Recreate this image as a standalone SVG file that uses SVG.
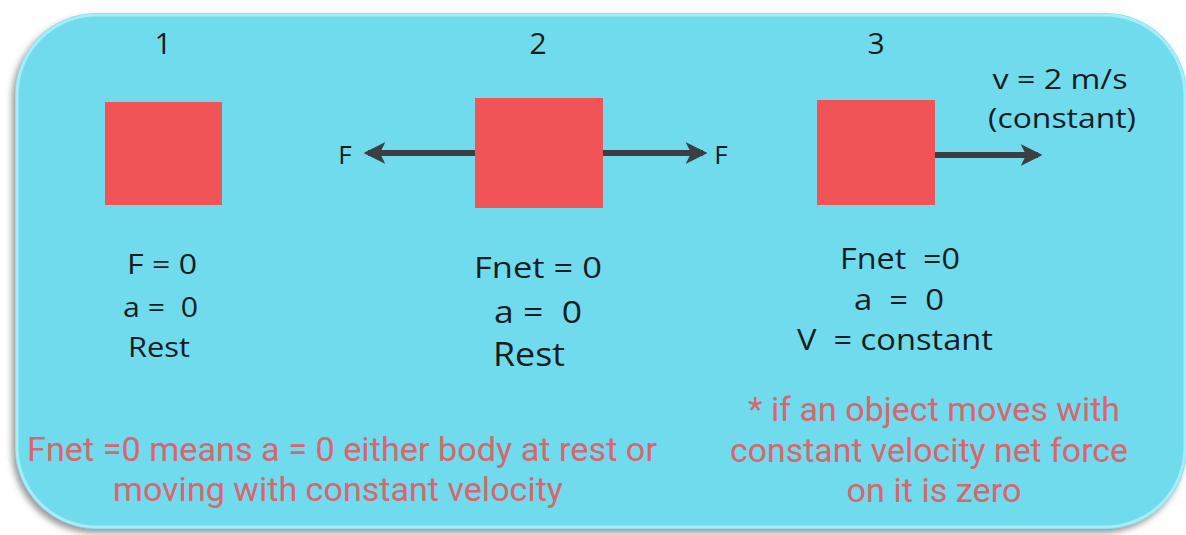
<svg xmlns="http://www.w3.org/2000/svg" width="1186" height="535" viewBox="0 0 1186 535">
<defs>
<style>
.lbl{font-family:"Open Sans","Noto Sans","Liberation Sans",sans-serif;fill:#161d21;text-anchor:middle;font-weight:500}
.red{font-family:Roboto,"Open Sans","Liberation Sans",sans-serif;fill:#d8666e;text-anchor:middle;font-size:33px}
.box{fill:#f15457}
.arr{stroke:#3b3e43;stroke-width:6;fill:none}
</style>
<marker id="ah" viewBox="0 0 10 10" refX="8" refY="5" markerWidth="3.6" markerHeight="3.6" orient="auto-start-reverse" markerUnits="strokeWidth">
<path d="M0,0 L10,5 L0,10 L2.5,5 Z" fill="#3b3e43"/>
</marker>
<filter id="sh" x="-5%" y="-5%" width="110%" height="115%">
<feDropShadow dx="-3" dy="4" stdDeviation="3" flood-color="#555" flood-opacity="0.6"/>
</filter>
</defs>
<rect width="1186" height="535" fill="#ffffff"/>
<g id="panel">
<rect x="15" y="13" width="1172" height="516" rx="82" ry="82" fill="#6fdbed" filter="url(#sh)"/>
<rect x="17" y="15" width="1168" height="512" rx="80" ry="80" fill="none" stroke="#a8ecf7" stroke-width="3"/>
</g>
<g id="connectors">
<line class="arr" x1="475" y1="153" x2="368" y2="153" marker-end="url(#ah)"/>
<line class="arr" x1="603" y1="153" x2="703" y2="153" marker-end="url(#ah)"/>
<line class="arr" x1="935" y1="155" x2="1038" y2="155" marker-end="url(#ah)"/>
</g>
<g id="case1">
<text class="lbl" x="163" y="54" font-size="30">1</text>
<rect class="box" x="105" y="102" width="117" height="103"/>
<text class="lbl" x="162" y="274" font-size="27" textLength="70" lengthAdjust="spacingAndGlyphs">F = 0</text>
<text class="lbl" x="160.5" y="317" font-size="27" textLength="75" lengthAdjust="spacingAndGlyphs" xml:space="preserve">a =  0</text>
<text class="lbl" x="159" y="357" font-size="28" textLength="62" lengthAdjust="spacingAndGlyphs">Rest</text>
</g>
<g id="case2">
<text class="lbl" x="538" y="54" font-size="30">2</text>
<rect class="box" x="475" y="98" width="128" height="110"/>
<text class="lbl" x="345" y="164" font-size="26">F</text>
<text class="lbl" x="721" y="164" font-size="26">F</text>
<text class="lbl" x="538" y="278" font-size="30" textLength="128" lengthAdjust="spacingAndGlyphs">Fnet = 0</text>
<text class="lbl" x="538" y="323" font-size="31" textLength="88" lengthAdjust="spacingAndGlyphs" xml:space="preserve">a =  0</text>
<text class="lbl" x="529" y="366" font-size="32" textLength="72" lengthAdjust="spacingAndGlyphs">Rest</text>
</g>
<g id="case3">
<text class="lbl" x="876" y="54" font-size="30">3</text>
<rect class="box" x="817" y="100" width="118" height="105"/>
<text class="lbl" x="1060" y="89" font-size="27" textLength="135" lengthAdjust="spacingAndGlyphs">v = 2 m/s</text>
<text class="lbl" x="1062" y="128" font-size="28" textLength="148" lengthAdjust="spacingAndGlyphs">(constant)</text>
<text class="lbl" x="900" y="269" font-size="29" textLength="120" lengthAdjust="spacingAndGlyphs" xml:space="preserve">Fnet  =0</text>
<text class="lbl" x="899" y="310" font-size="29" textLength="90" lengthAdjust="spacingAndGlyphs" xml:space="preserve">a  =  0</text>
<text class="lbl" x="895" y="350" font-size="29" textLength="196" lengthAdjust="spacingAndGlyphs" xml:space="preserve">V  = constant</text>
</g>
<g id="notes">
<text class="red" x="342" y="461" textLength="630" lengthAdjust="spacingAndGlyphs">Fnet =0 means a = 0 either body at rest or</text>
<text class="red" x="338" y="501" textLength="450" lengthAdjust="spacingAndGlyphs">moving with constant velocity</text>
<text class="red" x="934" y="421" textLength="372" lengthAdjust="spacingAndGlyphs">* if an object moves with</text>
<text class="red" x="929" y="462" textLength="398" lengthAdjust="spacingAndGlyphs">constant velocity net force</text>
<text class="red" x="934" y="502" textLength="175" lengthAdjust="spacingAndGlyphs">on it is zero</text>
</g>
</svg>
